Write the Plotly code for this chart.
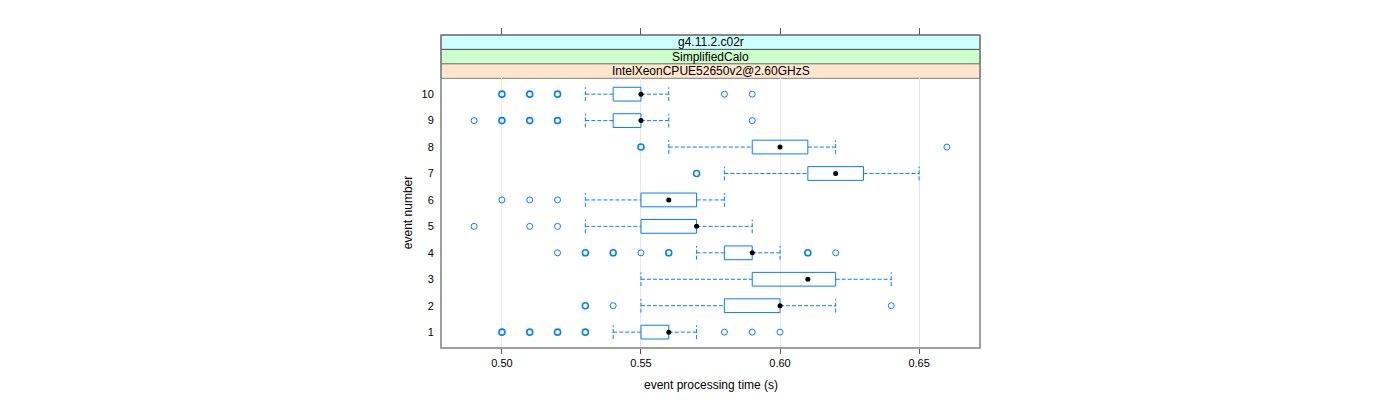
import plotly.graph_objects as go

# ---------------- data ----------------
events = [1, 2, 3, 4, 5, 6, 7, 8, 9, 10]
whisker_lo = [0.54, 0.55, 0.55, 0.57, 0.53, 0.53, 0.58, 0.56, 0.53, 0.53]
q1 = [0.55, 0.58, 0.59, 0.58, 0.55, 0.55, 0.61, 0.59, 0.54, 0.54]
median = [0.56, 0.60, 0.61, 0.59, 0.57, 0.56, 0.62, 0.60, 0.55, 0.55]
q3 = [0.56, 0.60, 0.62, 0.59, 0.57, 0.57, 0.63, 0.61, 0.55, 0.55]
whisker_hi = [0.57, 0.62, 0.64, 0.60, 0.59, 0.58, 0.65, 0.62, 0.56, 0.56]

outlier_event = [1, 1, 1, 1, 1, 1, 1,
                 2, 2, 2,
                 4, 4, 4, 4, 4, 4, 4,
                 5, 5, 5,
                 6, 6, 6,
                 7,
                 8, 8,
                 9, 9, 9, 9, 9,
                 10, 10, 10, 10, 10]
outlier_time = [0.50, 0.51, 0.52, 0.53, 0.58, 0.59, 0.60,
                0.53, 0.54, 0.64,
                0.52, 0.53, 0.54, 0.55, 0.56, 0.61, 0.62,
                0.49, 0.51, 0.52,
                0.50, 0.51, 0.52,
                0.57,
                0.55, 0.66,
                0.49, 0.50, 0.51, 0.52, 0.59,
                0.50, 0.51, 0.52, 0.58, 0.59]
outlier_count = [2, 2, 2, 2, 1, 1, 1,
                 2, 1, 1,
                 1, 2, 2, 1, 2, 2, 1,
                 1, 1, 1,
                 1, 1, 1,
                 2,
                 2, 1,
                 1, 2, 2, 2, 1,
                 2, 2, 2, 1, 1]

x_ticks = [0.50, 0.55, 0.60, 0.65]
x_tick_labels = ["0.50", "0.55", "0.60", "0.65"]
strip_labels = ["g4.11.2.c02r", "SimplifiedCalo", "IntelXeonCPUE52650v2@2.60GHzS"]
strip_colors = ["#ccffff", "#ccffcc", "#ffe5cc"]

# ---------------- style ----------------
BLUE = "#0080ff"
H = 0.26          # half box height (y units)
XR = [0.4781, 0.6719]
YR = [0.4, 10.6]
FONT = "Liberation Sans, Arial, Helvetica, sans-serif"
PANEL_FRAC = 269.7 / 313.0
STRIP_H = (1 - PANEL_FRAC) / 3

fig = go.Figure()

# boxes
bx, by = [], []
for e, a, b in zip(events, q1, q3):
    bx += [a, b, b, a, a, None]
    by += [e - H, e - H, e + H, e + H, e - H, None]
fig.add_trace(go.Scatter(x=bx, y=by, mode="lines",
                         line=dict(color=BLUE, width=1),
                         hoverinfo="skip", showlegend=False))

# whiskers (dashed) and caps
wx, wy = [], []
for e, lo, a, b, hi in zip(events, whisker_lo, q1, q3, whisker_hi):
    wx += [lo, a, None, b, hi, None]
    wy += [e, e, None, e, e, None]
    wx += [lo, lo, None, hi, hi, None]
    wy += [e - H, e + H, None, e - H, e + H, None]
fig.add_trace(go.Scatter(x=wx, y=wy, mode="lines",
                         line=dict(color=BLUE, width=1, dash="4px,2px"),
                         hoverinfo="skip", showlegend=False))

# outliers
single = [i for i, c in enumerate(outlier_count) if c == 1]
multi = [i for i, c in enumerate(outlier_count) if c > 1]
fig.add_trace(go.Scatter(x=[outlier_time[i] for i in single],
                         y=[outlier_event[i] for i in single], mode="markers",
                         marker=dict(symbol="circle-open", size=6, color=BLUE,
                                     line=dict(width=1, color=BLUE)),
                         showlegend=False))
fig.add_trace(go.Scatter(x=[outlier_time[i] for i in multi],
                         y=[outlier_event[i] for i in multi], mode="markers",
                         marker=dict(symbol="circle-open", size=6, color=BLUE,
                                     line=dict(width=1.6, color=BLUE)),
                         showlegend=False))

# medians
fig.add_trace(go.Scatter(x=median, y=events, mode="markers",
                         marker=dict(symbol="circle", size=5, color="black"),
                         showlegend=False))

# invisible trace for top axis
fig.add_trace(go.Scatter(x=XR, y=YR, xaxis="x2", yaxis="y", mode="markers",
                         marker=dict(opacity=0), hoverinfo="skip", showlegend=False))

shapes = []
# strips
for i, (lab, col) in enumerate(zip(strip_labels, strip_colors)):
    y1 = 1 - i * STRIP_H
    y0 = y1 - STRIP_H
    shapes.append(dict(type="rect", xref="paper", yref="paper", x0=0, x1=1,
                       y0=y0, y1=y1, fillcolor=col,
                       line=dict(color="#555555" if i < 2 else "#808080", width=1),
                       layer="below"))
# panel border
shapes.append(dict(type="rect", xref="paper", yref="paper", x0=0, x1=1,
                   y0=0, y1=1, fillcolor="rgba(0,0,0,0)",
                   line=dict(color="#808080", width=1.5)))

annotations = []
for i, lab in enumerate(strip_labels):
    yc = 1 - (i + 0.5) * STRIP_H
    annotations.append(dict(text=lab, xref="paper", yref="paper", x=0.5, y=yc,
                            showarrow=False, font=dict(family=FONT, size=12, color="black"),
                            xanchor="center", yanchor="middle"))
annotations.append(dict(text="event processing time (s)", xref="paper", yref="paper",
                        x=0.5, y=-37 / 313, showarrow=False,
                        font=dict(family=FONT, size=12, color="black"),
                        xanchor="center", yanchor="middle"))
annotations.append(dict(text="event number", xref="paper", yref="paper",
                        x=-33 / 539, y=PANEL_FRAC / 2, showarrow=False, textangle=-90,
                        font=dict(family=FONT, size=12, color="black"),
                        xanchor="center", yanchor="middle"))

fig.update_layout(
    width=1400, height=400,
    margin=dict(l=433, r=428, t=27, b=60),
    paper_bgcolor="white", plot_bgcolor="white",
    showlegend=False,
    xaxis=dict(range=XR, tickvals=x_ticks, ticktext=x_tick_labels,
               ticks="outside", ticklen=5, tickcolor="#555555",
               showgrid=True, gridcolor="#e8e8e8", gridwidth=1,
               zeroline=False, showline=False,
               tickfont=dict(family=FONT, size=11, color="black")),
    xaxis2=dict(range=XR, overlaying="x", side="top", anchor="free", position=1,
                tickvals=x_ticks, showticklabels=False, ticks="outside",
                ticklen=7, tickcolor="#555555", showgrid=False, zeroline=False,
                showline=False),
    yaxis=dict(range=YR, domain=[0, PANEL_FRAC], tickvals=events,
               ticktext=[str(e) for e in events],
               ticks="outside", ticklen=4, tickcolor="rgba(0,0,0,0)",
               showgrid=False, zeroline=False, showline=False,
               tickfont=dict(family=FONT, size=11, color="black")),
    shapes=shapes,
    annotations=annotations,
)

fig.write_html("out.html")
